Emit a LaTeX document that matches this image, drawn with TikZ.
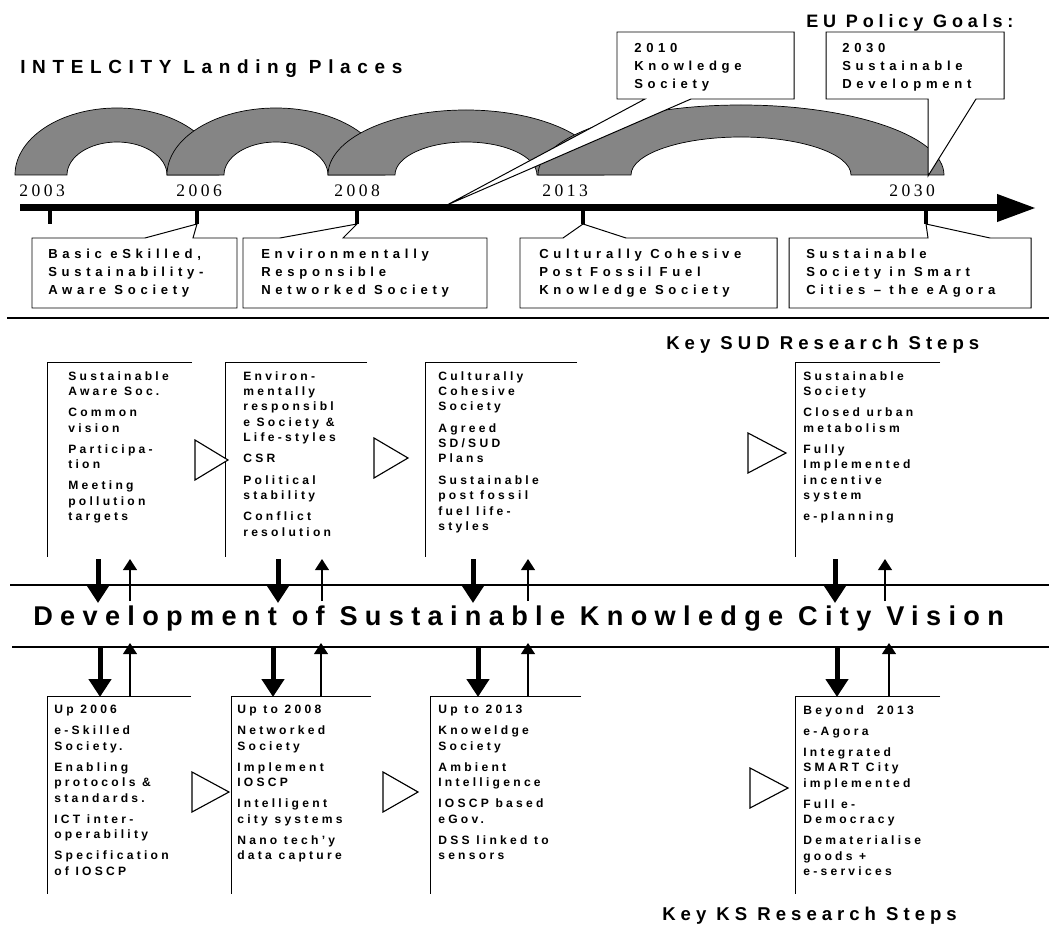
\documentclass[tikz,border=0pt]{standalone}
\usepackage{fontspec}
\setmainfont{Liberation Sans}
\newfontfamily\widesans[LetterSpace=27]{Liberation Sans}
\newfontfamily\boxsans[LetterSpace=36]{Liberation Sans}
\newfontfamily\headsans[LetterSpace=35]{Liberation Sans}
\newfontfamily\wideserif[LetterSpace=20]{Liberation Serif}
\usetikzlibrary{arrows.meta,positioning}

\tikzset{
  archband/.style={fill=black!48, draw=black, line width=0.5pt},
  calloutbox/.style={fill=white, draw=black, line width=0.7pt, line join=miter},
  boxtext/.style={anchor=north west, inner sep=0pt, align=left,
    font=\boxsans\bfseries\fontsize{9.3}{12.8}\selectfont},
  steptext/.style={anchor=north west, inner sep=0pt, align=left,
    font=\widesans\bfseries\fontsize{8.6}{11}\selectfont},
  yearlabel/.style={anchor=base west, inner sep=0pt,
    font=\wideserif\fontsize{12.5}{14}\selectfont},
  headtext/.style={anchor=base west, inner sep=0pt,
    font=\widesans\bfseries\fontsize{13.2}{15}\selectfont},
  stepframe/.style={draw=black, line width=0.6pt},
  steptri/.style={draw=black, line width=0.8pt, fill=white, line join=miter},
  seprule/.style={draw=black, line width=1.2pt},
  pushdown/.style={line width=1.25mm, -{Triangle[length=4.5mm,width=5.5mm]}},
  feedup/.style={line width=0.4mm, -{Triangle[length=2.8mm,width=3.5mm]}},
}

\begin{document}
\begin{tikzpicture}[x=0.25mm, y=-0.25mm]
  \useasboundingbox (0,0) rectangle (1049,936);

  % Headings
  \node[headtext, font=\headsans\bfseries\fontsize{13.5}{16}\selectfont] (intelcity) at (20,74) {INTELCITY Landing Places};
  \node[headtext, font=\widesans\bfseries\fontsize{12.8}{15}\selectfont] (eugoals) at (806,28) {EU Policy Goals:};

  % Landing place arches
  \draw[archband] (15,175) arc[start angle=180, end angle=360, x radius=102, y radius=67]
    -- (167,175) arc[start angle=360, end angle=180, x radius=50, y radius=33] -- cycle;
  \draw[archband] (167,175) arc[start angle=180, end angle=360, x radius=109, y radius=67]
    -- (328,175) arc[start angle=360, end angle=180, x radius=52, y radius=33] -- cycle;
  \draw[archband] (328,175) arc[start angle=180, end angle=360, x radius=138, y radius=65]
    -- (537,175) arc[start angle=360, end angle=180, x radius=71, y radius=33] -- cycle;
  \draw[archband] (538,175) arc[start angle=180, end angle=360, x radius=203, y radius=70]
    -- (851,175) arc[start angle=360, end angle=180, x radius=110, y radius=38] -- cycle;

  % EU policy goal callouts
  \coordinate (tip2010) at (447,205);
  \coordinate (tip2030) at (928,176);
  \draw[calloutbox] (617,32) -- (794,32) -- (794,99) -- (691,99) -- (tip2010) -- (645,99) -- (617,99) -- cycle;
  \node[boxtext] (ks2010) at (634,43) {2010\\Knowledge\\Society};
  \draw[calloutbox] (826,32) -- (1004,32) -- (1004,99) -- (976,99) -- (tip2030) -- (928,99) -- (826,99) -- cycle;
  \node[boxtext] (sd2030) at (842,43) {2030\\Sustainable\\Development};

  % Years
  \node[yearlabel] (y2003) at (19,197) {2003};
  \node[yearlabel] (y2006) at (176,197) {2006};
  \node[yearlabel] (y2008) at (334,197) {2008};
  \node[yearlabel] (y2013) at (542,197) {2013};
  \node[yearlabel] (y2030) at (889,197) {2030};

  % Timeline and ticks
  \coordinate (t2003) at (50,224);
  \coordinate (t2006) at (197,224);
  \coordinate (t2008) at (357,224);
  \coordinate (t2013) at (583,224);
  \coordinate (t2030) at (926,224);
  \draw[line width=1mm] (50,208) -- (t2003);
  \draw[line width=1mm] (197,208) -- (t2006);
  \draw[line width=1mm] (357,208) -- (t2008);
  \draw[line width=1mm] (583,208) -- (t2013);
  \draw[line width=1mm] (926,208) -- (t2030);
  \draw[line width=1.75mm, -{Triangle[length=9.75mm,width=6.5mm]}] (20,208) -- (1036,208);

  % Landing place callouts
  \draw[calloutbox] (32,238) -- (145,238) -- (t2006) -- (193,238) -- (237,238) -- (237,308) -- (32,308) -- cycle;
  \node[boxtext] (landA) at (48,249) {Basic eSkilled,\\Sustainability-\\Aware Society};
  \draw[calloutbox] (243,238) -- (280,238) -- (t2008) -- (343,238) -- (487,238) -- (487,308) -- (243,308) -- cycle;
  \node[boxtext] (landB) at (261,249) {Environmentally\\Responsible\\Networked Society};
  \draw[calloutbox] (520,238) -- (563,238) -- (t2013) -- (626,238) -- (777,238) -- (777,308) -- (520,308) -- cycle;
  \node[boxtext] (landC) at (539,249) {Culturally Cohesive\\Post Fossil Fuel\\Knowledge Society};
  \draw[calloutbox] (789,238) -- (928,238) -- (t2030) -- (990,238) -- (1031,238) -- (1031,308) -- (789,308) -- cycle;
  \node[boxtext] (landD) at (806,249) {Sustainable\\Society in Smart\\Cities – the eAgora};

  % Rules
  \draw[seprule] (7,318) -- (1049,318);
  \draw[seprule] (10,585) -- (1049,585);
  \draw[seprule] (12,647) -- (1049,647);

  % SUD research steps
  \node[headtext] (sudhead) at (666,349) {Key SUD Research Steps};
  \draw[stepframe] (192,362) -- (47,362) -- (47,557);
  \node[steptext] (sudA) at (68,371) {Sustainable\\Aware Soc.\\[4pt]Common\\vision\\[4pt]Participa-\\tion\\[4pt]Meeting\\pollution\\targets};
  \draw[stepframe] (367,362) -- (225,362) -- (225,557);
  \node[steptext] (sudB) at (243,371) {Environ-\\mentally\\responsibl\\e Society \&\\Life-styles\\[4pt]CSR\\[4pt]Political\\stability\\[4pt]Conflict\\resolution};
  \draw[stepframe] (577,362) -- (425,362) -- (425,557);
  \node[steptext] (sudC) at (438,371) {Culturally\\Cohesive\\Society\\[4pt]Agreed\\SD/SUD\\Plans\\[4pt]Sustainable\\post fossil\\fuel life-\\styles};
  \draw[stepframe] (940,362) -- (795,362) -- (795,557);
  \node[steptext] (sudD) at (803,371) {Sustainable\\Society\\[4pt]Closed urban\\metabolism\\[4pt]Fully\\Implemented\\incentive\\system\\[4pt]e-planning};
  \draw[steptri] (195,440) -- (228,460) -- (195,480) -- cycle;
  \draw[steptri] (374,438) -- (408,458) -- (374,478) -- cycle;
  \draw[steptri] (748,433) -- (786,453) -- (748,473) -- cycle;

  % Arrows to and from the vision
  \coordinate (sudout1) at (98,559);  \coordinate (visin1) at (98,603);
  \coordinate (visout1) at (130,601); \coordinate (sudin1) at (130,559);
  \coordinate (sudout2) at (278,559); \coordinate (visin2) at (278,603);
  \coordinate (visout2) at (322,601); \coordinate (sudin2) at (322,559);
  \coordinate (sudout3) at (473,559); \coordinate (visin3) at (473,603);
  \coordinate (visout3) at (528,601); \coordinate (sudin3) at (528,559);
  \coordinate (sudout4) at (835,559); \coordinate (visin4) at (835,603);
  \coordinate (visout4) at (885,601); \coordinate (sudin4) at (885,559);
  \draw[pushdown] (sudout1) -- (visin1);
  \draw[feedup] (visout1) -- (sudin1);
  \draw[pushdown] (sudout2) -- (visin2);
  \draw[feedup] (visout2) -- (sudin2);
  \draw[pushdown] (sudout3) -- (visin3);
  \draw[feedup] (visout3) -- (sudin3);
  \draw[pushdown] (sudout4) -- (visin4);
  \draw[feedup] (visout4) -- (sudin4);

  % Vision title
  \node[headtext, font=\widesans\bfseries\fontsize{19.3}{22}\selectfont] (vision) at (33,625) {Development of Sustainable Knowledge City Vision};

  \coordinate (visout5) at (100,648); \coordinate (ksin1) at (100,697);
  \coordinate (ksout1) at (130,697);  \coordinate (visin5) at (130,643);
  \coordinate (visout6) at (273,648); \coordinate (ksin2) at (273,697);
  \coordinate (ksout2) at (321,697);  \coordinate (visin6) at (321,643);
  \coordinate (visout7) at (478,648); \coordinate (ksin3) at (478,697);
  \coordinate (ksout3) at (528,697);  \coordinate (visin7) at (528,643);
  \coordinate (visout8) at (837,648); \coordinate (ksin4) at (837,697);
  \coordinate (ksout4) at (889,697);  \coordinate (visin8) at (889,643);
  \draw[pushdown] (visout5) -- (ksin1);
  \draw[feedup] (ksout1) -- (visin5);
  \draw[pushdown] (visout6) -- (ksin2);
  \draw[feedup] (ksout2) -- (visin6);
  \draw[pushdown] (visout7) -- (ksin3);
  \draw[feedup] (ksout3) -- (visin7);
  \draw[pushdown] (visout8) -- (ksin4);
  \draw[feedup] (ksout4) -- (visin8);

  % KS research steps
  \draw[stepframe] (191,696) -- (47,696) -- (47,894);
  \node[steptext] (ksA) at (54,705) {Up 2006\\[4pt]e-Skilled\\Society.\\[4pt]Enabling\\protocols \&\\standards.\\[4pt]ICT inter-\\operability\\[4pt]Specification\\of IOSCP};
  \draw[stepframe] (371,696) -- (231,696) -- (231,894);
  \node[steptext] (ksB) at (237,705) {Up to 2008\\[4pt]Networked\\Society\\[4pt]Implement\\IOSCP\\[4pt]Intelligent\\city systems\\[4pt]Nano tech’y\\data capture};
  \draw[stepframe] (581,696) -- (430,696) -- (430,894);
  \node[steptext] (ksC) at (438,705) {Up to 2013\\[4pt]Knoweldge\\Society\\[4pt]Ambient\\Intelligence\\[4pt]IOSCP based\\eGov.\\[4pt]DSS linked to\\sensors};
  \draw[stepframe] (940,696) -- (795,696) -- (795,894);
  \node[steptext] (ksD) at (803,705) {Beyond\ \ 2013\\[4pt]e-Agora\\[4pt]Integrated\\SMART City\\implemented\\[4pt]Full e-\\Democracy\\[4pt]Dematerialise\\goods +\\e-services};
  \draw[steptri] (192,772) -- (229,792) -- (192,812) -- cycle;
  \draw[steptri] (383,772) -- (418,792) -- (383,812) -- cycle;
  \draw[steptri] (750,768) -- (788,788) -- (750,808) -- cycle;
  \node[headtext] (kshead) at (662,920) {Key KS Research Steps};
\end{tikzpicture}
\end{document}
